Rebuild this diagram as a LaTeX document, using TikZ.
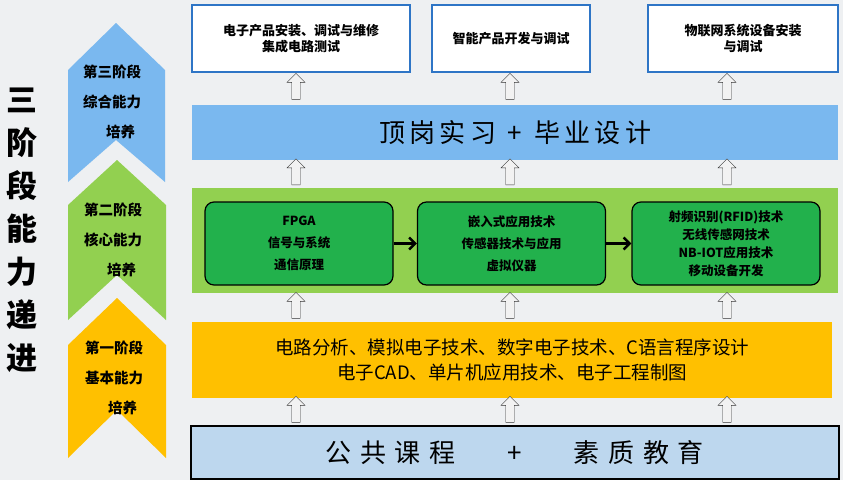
\documentclass[tikz,border=0pt]{standalone}
\usepackage{fontspec}
\setmainfont{Noto Sans CJK SC}
\usetikzlibrary{shapes.arrows,arrows.meta}
\definecolor{bg}{HTML}{EEF0F2}
\definecolor{skyblue}{HTML}{7AB8EF}
\definecolor{leaf}{HTML}{92D050}
\definecolor{deepgreen}{HTML}{22B14C}
\definecolor{amber}{HTML}{FFC000}
\definecolor{paleblue}{HTML}{BDD7EE}
\definecolor{frameblue}{HTML}{2E75C6}
\newcommand{\arrowsize}{26pt}

\begin{document}
\begin{tikzpicture}[x=1pt,y=-1pt,
  goal/.style={draw=frameblue, line width=1.5pt, fill=white, align=center, font=\bfseries\fontsize{13}{16}\selectfont},
  layer/.style={anchor=north west, inner sep=0pt},
  course/.style={draw=black, line width=1.2pt, fill=deepgreen, rounded corners=9pt, minimum width=188pt, minimum height=83pt, align=center, font=\bfseries\fontsize{12.5}{22}\selectfont},
  uparrow/.style={single arrow, draw=black!80, fill=gray!10, shape border rotate=90, minimum height=\arrowsize, minimum width=18pt, single arrow head extend=3pt, single arrow tip angle=90, inner sep=2.5pt},
  stage/.style={align=left, font=\bfseries\fontsize{14.5}{30}\selectfont}]
\useasboundingbox (0,0) rectangle (843,480);
\fill[bg] (0,0) rectangle (843,480);

% chevrons on the left
\fill[skyblue] (116,23) -- (165,70) -- (165,182) -- (116,140) -- (68,182) -- (68,70) -- cycle;
\fill[leaf] (117,160) -- (166,205) -- (166,320) -- (117,275) -- (68,320) -- (68,205) -- cycle;
\fill[amber] (117,298) -- (166,345) -- (166,458) -- (117,410) -- (68,458) -- (68,345) -- cycle;
\node[stage] (s3) at (112,102) {第三阶段\\综合能力\\\hspace*{1.6em}培养};
\node[stage] (s2) at (113,240) {第二阶段\\核心能力\\\hspace*{1.6em}培养};
\node[stage] (s1) at (114,378) {第一阶段\\基本能力\\\hspace*{1.6em}培养};
\node[align=center, font=\bfseries\fontsize{31}{43}\selectfont] (title) at (22,230)
  {三\\阶\\段\\能\\力\\递\\进};

% goals
\node[goal, minimum width=218pt, minimum height=67pt] (g1) at (301,38.5) {电子产品安装、调试与维修\\集成电路测试};
\node[goal, minimum width=158pt, minimum height=67pt] (g2) at (511,38.5) {智能产品开发与调试};
\node[goal, minimum width=190pt, minimum height=67pt] (g3) at (743,38.5) {物联网系统设备安装\\与调试};

% layers
\node[layer, fill=skyblue, minimum width=646pt, minimum height=55pt] (top) at (192,105) {};
\node[font=\fontsize{26}{30}\selectfont] (topt) at (top.center) {顶\,岗\,实\,习\ \ +\ \ 毕\,业\,设\,计};
\node[layer, fill=leaf, minimum width=646pt, minimum height=105pt] (mid) at (192,188) {};
\node[course] (c1) at (299,243.5) {FPGA\\信号与系统\\通信原理};
\node[course] (c2) at (511.5,243.5) {嵌入式应用技术\\传感器技术与应用\\虚拟仪器};
\node[course, font=\bfseries\fontsize{12.5}{18}\selectfont] (c3) at (726,243.5) {射频识别(RFID)技术\\无线传感网技术\\NB-IOT应用技术\\移动设备开发};
\draw[-{Straight Barb[length=6pt,width=12pt]}, line width=2.5pt] (c1) -- (c2);
\draw[-{Straight Barb[length=6pt,width=12pt]}, line width=2.5pt] (c2) -- (c3);
\node[layer, fill=amber, minimum width=640pt, minimum height=76pt] (low) at (192,322) {};
\node[align=center, font=\fontsize{18.5}{25}\selectfont] (lowt) at (low.center) {电路分析、模拟电子技术、数字电子技术、C语言程序设计\\电子CAD、单片机应用技术、电子工程制图};
\node[layer, draw=black, line width=1.5pt, fill=paleblue, minimum width=648pt, minimum height=53pt] (base) at (190,425) {};
\node[font=\fontsize{26}{30}\selectfont] (baset) at (base.center) {公\,\,共\,\,课\,\,程\qquad +\qquad 素\,\,质\,\,教\,\,育};

% hollow arrows between layers
\foreach \x in {296,510,727}
  \foreach \y in {88.5,174,307.5,411.5}
    \node[uparrow] at (\x,\y) {};
\end{tikzpicture}
\end{document}
